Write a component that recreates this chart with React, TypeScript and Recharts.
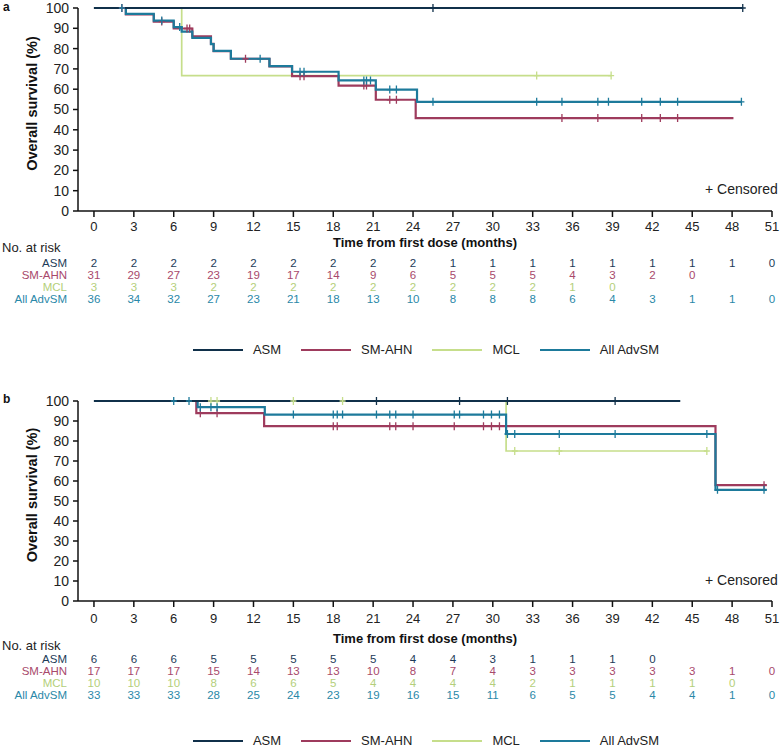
import React from 'react';
import { LineChart, Line, XAxis, YAxis, Legend } from 'recharts';

const months = [0, 3, 6, 9, 12, 15, 18, 21, 24, 27, 30, 33, 36, 39, 42, 45, 48, 51];
const survivalTicks = [0, 10, 20, 30, 40, 50, 60, 70, 80, 90, 100];
const groups = ['ASM', 'SM-AHN', 'MCL', 'All AdvSM'];
const lineColors = ['#10304a', '#9e3b5d', '#c6de8b', '#1d7a9b'];
const textColors = ['#1c3b58', '#a8496b', '#b4cf7a', '#2a88a8'];

// ---- panel a ----
// drop times, survival after each drop, censor times, last follow-up
const aAsmDropT: number[] = [];
const aAsmDropS: number[] = [];
const aAsmCens = [25.5, 48.8];
const aAsmEnd = 48.8;

const aAhnDropT = [2.4, 4.5, 6.0, 7.4, 8.8, 9.0, 10.3, 13.2, 14.9, 18.4, 21.2, 24.2];
const aAhnDropS = [96.8, 93.3, 89.9, 86.0, 82.4, 78.8, 75.0, 71.2, 66.4, 61.8, 54.8, 45.8];
const aAhnCens = [2.1, 5.1, 7.0, 7.2, 11.4, 15.5, 15.8, 20.3, 20.5, 22.25, 22.75, 35.2, 37.9, 41.2, 42.6, 43.9];
const aAhnEnd = 48.1;

const aMclDropT = [6.6];
const aMclDropS = [66.7];
const aMclCens = [33.3, 38.9];
const aMclEnd = 38.9;

const aAllDropT = [2.4, 4.5, 6.0, 6.6, 7.4, 8.8, 9.0, 10.3, 13.2, 14.9, 18.4, 21.2, 24.3];
const aAllDropS = [97.1, 93.8, 90.6, 88.4, 85.3, 82.2, 78.9, 75.0, 71.4, 68.6, 64.3, 59.8, 53.8];
const aAllCens = [2.1, 5.1, 6.45, 12.5, 15.5, 15.8, 20.3, 20.5, 20.8, 22.25, 22.75, 25.5, 33.3, 35.2, 37.9, 38.7, 41.2, 42.6, 43.9, 48.7];
const aAllEnd = 48.7;

const aRiskAsm = [2, 2, 2, 2, 2, 2, 2, 2, 2, 1, 1, 1, 1, 1, 1, 1, 1, 0];
const aRiskAhn = [31, 29, 27, 23, 19, 17, 14, 9, 6, 5, 5, 5, 4, 3, 2, 0, null, null];
const aRiskMcl = [3, 3, 3, 2, 2, 2, 2, 2, 2, 2, 2, 2, 1, 0, null, null, null, null];
const aRiskAll = [36, 34, 32, 27, 23, 21, 18, 13, 10, 8, 8, 8, 6, 4, 3, 1, 1, 0];

// ---- panel b ----
const bAsmDropT: number[] = [];
const bAsmDropS: number[] = [];
const bAsmCens = [21.25, 27.5, 31.1, 39.2];
const bAsmEnd = 44.1;

const bAhnDropT = [7.7, 12.8, 46.75];
const bAhnDropS = [93.9, 87.4, 57.9];
const bAhnCens = [8.0, 9.26, 18.0, 18.3, 22.25, 22.7, 24.0, 27.1, 29.3, 29.9, 30.5, 50.4];
const bAhnEnd = 50.6;

const bMclDropT = [31.0];
const bMclDropS = [75.0];
const bMclCens = [8.8, 9.26, 15.0, 18.7, 31.65, 35.0, 46.1];
const bMclEnd = 46.1;

const bAllDropT = [7.8, 12.85, 31.0, 46.75];
const bAllDropS = [96.9, 93.2, 83.5, 55.6];
const bAllCens = [6.0, 7.15, 8.0, 8.8, 9.26, 15.0, 18.0, 18.3, 18.7, 21.25, 22.25, 22.7, 24.0, 27.1, 27.5, 29.3, 29.9, 30.5, 31.1, 31.65, 35.0, 39.2, 46.1, 46.9, 50.4];
const bAllEnd = 50.6;

const bRiskAsm = [6, 6, 6, 5, 5, 5, 5, 5, 4, 4, 3, 1, 1, 1, 0, null, null, null];
const bRiskAhn = [17, 17, 17, 15, 14, 13, 13, 10, 8, 7, 4, 3, 3, 3, 3, 3, 1, 0];
const bRiskMcl = [10, 10, 10, 8, 6, 6, 5, 4, 4, 4, 4, 2, 1, 1, 1, 1, 0, null];
const bRiskAll = [33, 33, 33, 28, 25, 24, 23, 19, 16, 15, 11, 6, 5, 5, 4, 4, 1, 0];

type Pt = { t: number; s: number; c: boolean };

function kmPoints(dropT: number[], dropS: number[], cens: number[], end: number): Pt[] {
  const level = (t: number) => {
    let s = 100;
    dropT.forEach((d, i) => {
      if (d <= t) s = dropS[i];
    });
    return s;
  };
  const pts: Pt[] = [{ t: 0, s: 100, c: false }];
  dropT.forEach((t, i) => pts.push({ t, s: dropS[i], c: false }));
  cens.forEach((t) => pts.push({ t, s: level(t), c: true }));
  pts.push({ t: end, s: level(end), c: false });
  return pts.sort((p, q) => p.t - q.t);
}

const censorDot = (color: string) => (p: any) => {
  if (!p.payload || !p.payload.c) return <g key={'n' + p.index} />;
  const { cx, cy } = p;
  return (
    <path
      key={'c' + p.index}
      d={`M${cx},${cy - 4}V${cy + 4}M${cx - 3},${cy}H${cx + 3}`}
      stroke={color}
      strokeWidth={1.3}
      fill="none"
    />
  );
};

type PanelCfg = {
  series: Pt[][];
  risk: (number | null)[][];
  height: number;
  marginTop: number;
  marginBottom: number;
  xAxisHeight: number;
  tickDy: number;
  rowY: number[];
  noRiskY: number;
  labelOffset: number;
};

const panelA: PanelCfg = {
  series: [
    kmPoints(aAsmDropT, aAsmDropS, aAsmCens, aAsmEnd),
    kmPoints(aAhnDropT, aAhnDropS, aAhnCens, aAhnEnd),
    kmPoints(aMclDropT, aMclDropS, aMclCens, aMclEnd),
    kmPoints(aAllDropT, aAllDropS, aAllCens, aAllEnd),
  ],
  risk: [aRiskAsm, aRiskAhn, aRiskMcl, aRiskAll],
  height: 392,
  marginTop: 8,
  marginBottom: 38,
  xAxisHeight: 135,
  tickDy: 15,
  rowY: [51.5, 63.5, 75.5, 87.5],
  noRiskY: 36,
  labelOffset: 27,
};

const panelB: PanelCfg = {
  series: [
    kmPoints(bAsmDropT, bAsmDropS, bAsmCens, bAsmEnd),
    kmPoints(bAhnDropT, bAhnDropS, bAhnCens, bAhnEnd),
    kmPoints(bMclDropT, bMclDropS, bMclCens, bMclEnd),
    kmPoints(bAllDropT, bAllDropS, bAllCens, bAllEnd),
  ],
  risk: [bRiskAsm, bRiskAhn, bRiskMcl, bRiskAll],
  height: 358,
  marginTop: 11,
  marginBottom: 3,
  xAxisHeight: 136,
  tickDy: 17.5,
  rowY: [58, 70, 82, 94],
  noRiskY: 44,
  labelOffset: 33,
};

function RiskTick(props: any) {
  const { x, y, payload, index, cfg } = props;
  const ay = y - 6;
  const v = payload.value;
  const i = months.indexOf(v);
  return (
    <g>
      <text x={x} y={ay + cfg.tickDy} textAnchor="middle" dominantBaseline="central" fontSize={13} fill="#222">
        {v}
      </text>
      {cfg.risk.map((row: (number | null)[], r: number) =>
        row[i] == null ? null : (
          <text key={r} x={x} y={ay + cfg.rowY[r]} textAnchor="middle" dominantBaseline="central" fontSize={11.5} fill={textColors[r]}>
            {row[i]}
          </text>
        )
      )}
      {index === 0 && (
        <g>
          <text x={2} y={ay + cfg.noRiskY} dominantBaseline="central" fontSize={13} fill="#222">
            No. at risk
          </text>
          {groups.map((g, r) => (
            <text key={g} x={67} y={ay + cfg.rowY[r]} textAnchor="end" dominantBaseline="central" fontSize={11.5} fill={textColors[r]}>
              {g}
            </text>
          ))}
        </g>
      )}
    </g>
  );
}

function LegendRow(props: any) {
  const items = [...(props.payload ?? [])].sort((p: any, q: any) => groups.indexOf(p.value) - groups.indexOf(q.value));
  return (
    <div style={{ height: 8, display: 'flex', justifyContent: 'center', alignItems: 'center', paddingLeft: 80, fontSize: 13, lineHeight: '8px', color: '#222' }}>
      {items.map((it: any, k: number) => (
        <div key={it.value} style={{ display: 'flex', alignItems: 'center', marginLeft: k === 0 ? 0 : 20, whiteSpace: 'nowrap' }}>
          <span style={{ display: 'inline-block', width: 50, height: 0, borderTop: `2.5px solid ${it.color}`, marginRight: 10 }} />
          <span>{it.value}</span>
        </div>
      ))}
    </div>
  );
}

const drawOrder = [2, 1, 3, 0];

function Panel({ cfg }: { cfg: PanelCfg }) {
  return (
    <LineChart width={782} height={cfg.height} margin={{ top: cfg.marginTop, right: 10, left: 0, bottom: cfg.marginBottom }}>
      <XAxis
        type="number"
        dataKey="t"
        domain={[-1.2, 51]}
        ticks={months}
        interval={0}
        height={cfg.xAxisHeight}
        tickSize={6}
        tickMargin={0}
        axisLine={{ stroke: '#111', strokeWidth: 1.5 }}
        tickLine={{ stroke: '#111', strokeWidth: 1.5 }}
        tick={(p: any) => <RiskTick {...p} cfg={cfg} />}
        label={{
          value: 'Time from first dose (months)',
          position: 'insideTop',
          offset: cfg.labelOffset,
          style: { fontWeight: 'bold', fontSize: 13, fill: '#111', textAnchor: 'middle' },
        }}
      />
      <YAxis
        type="number"
        domain={[0, 100]}
        ticks={survivalTicks}
        interval={0}
        width={78}
        tickSize={5}
        tickMargin={4}
        axisLine={{ stroke: '#111', strokeWidth: 1.5 }}
        tickLine={{ stroke: '#111', strokeWidth: 1.5 }}
        tick={{ fontSize: 14, fill: '#222' }}
        label={{
          value: 'Overall survival (%)',
          angle: -90,
          position: 'insideLeft',
          offset: 32,
          dy: -6,
          style: { fontWeight: 'bold', fontSize: 14.5, fill: '#111', textAnchor: 'middle' },
        }}
      />
      {drawOrder.map((k) => (
        <Line
          key={groups[k]}
          name={groups[k]}
          data={cfg.series[k]}
          dataKey="s"
          type="stepAfter"
          stroke={lineColors[k]}
          strokeWidth={k === 2 ? 1.7 : 2.2}
          dot={censorDot(lineColors[k])}
          activeDot={false}
          legendType="plainline"
          isAnimationActive={false}
        />
      ))}
      <Legend verticalAlign="bottom" content={(p: any) => <LegendRow {...p} />} />
    </LineChart>
  );
}

export default function App() {
  return (
    <div
      style={{
        position: 'absolute',
        left: 0,
        top: 0,
        width: 782,
        height: 748,
        overflow: 'hidden',
        background: '#fff',
        fontFamily: '"Liberation Sans", Arial, sans-serif',
      }}
    >
      <div style={{ position: 'absolute', left: 0, top: 0 }}>
        <Panel cfg={panelA} />
      </div>
      <div style={{ position: 'absolute', left: 0, top: 390 }}>
        <Panel cfg={panelB} />
      </div>
      <div style={{ position: 'absolute', left: 3, top: 0, fontSize: 12, fontWeight: 'bold', color: '#111' }}>a</div>
      <div style={{ position: 'absolute', left: 3, top: 392, fontSize: 12, fontWeight: 'bold', color: '#111' }}>b</div>
      <div style={{ position: 'absolute', left: 705, top: 180, fontSize: 14, lineHeight: '18px', color: '#222', whiteSpace: 'nowrap' }}>+ Censored</div>
      <div style={{ position: 'absolute', left: 705, top: 571, fontSize: 14, lineHeight: '18px', color: '#222', whiteSpace: 'nowrap' }}>+ Censored</div>
    </div>
  );
}
